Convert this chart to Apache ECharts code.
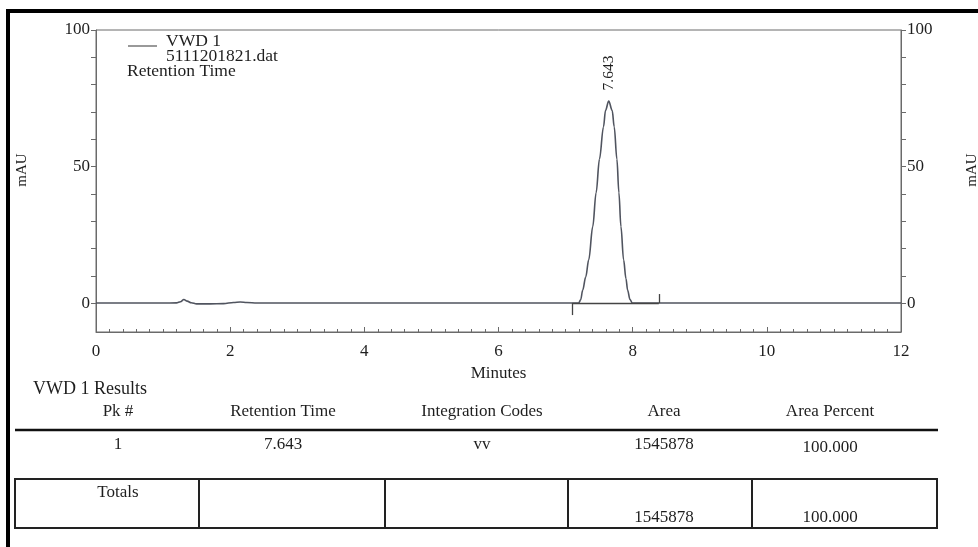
<!DOCTYPE html>
<html><head><meta charset="utf-8">
<script src="https://cdn.jsdelivr.net/npm/echarts@6/dist/echarts.min.js"></script>
<style>html,body{margin:0;padding:0;background:#fff}#c{width:978px;height:547px}</style>
</head><body><div id="c"></div>
<script>
// ---- data ----
const minutes = [0, 0.5, 1.0, 1.2, 1.26, 1.31, 1.36, 1.42, 1.5, 1.7, 1.9, 2.05, 2.15, 2.25, 2.4, 3, 4, 5, 6, 7, 7.195, 7.225, 7.255, 7.3, 7.345, 7.405, 7.455, 7.505, 7.565, 7.595, 7.643, 7.695, 7.725, 7.765, 7.795, 7.825, 7.865, 7.9, 7.925, 7.96, 7.995, 8.1, 8.5, 9, 10, 11, 12];
const mAU     = [0, 0,   0,   0.05, 0.5, 1.3, 0.7, 0.1, -0.3, -0.3, -0.2, 0.2, 0.4, 0.2, 0, 0, 0, 0, 0, 0, 0,    1.2,   4.7,  9.5, 15.8, 28,   40.4, 52.7, 64.5, 70.5, 74, 70.5, 64.5, 52.7, 40.4, 28,   15.8, 9,   4.7,  1.3,  0,    0,   0,   0, 0,  0,  0];
const peakTime = 7.643;
const markerTimes = [7.10, 8.39];
const markerValues = [-4.4, 3.3];
const xTickLabels = [0, 2, 4, 6, 8, 10, 12];
const yTickLabels = [0, 50, 100];
const yTicks = [0, 10, 20, 30, 40, 50, 60, 70, 80, 90, 100];
const yAxisTitle = 'mAU';
const xAxisTitle = 'Minutes';
const legendLines = ['VWD 1', '5111201821.dat', 'Retention Time'];
const tableTitle = 'VWD 1 Results';
const tableHeaders = ['Pk #', 'Retention Time', 'Integration Codes', 'Area', 'Area Percent'];
const tableRow = ['1', '7.643', 'vv', '1545878', '100.000'];
const totalsRow = ['Totals', '', '', '1545878', '100.000'];

const FONT = '"Liberation Serif", "Times New Roman", serif';
const TXT = '#1e1e1e';
const AX = '#6a6a6a';

const peakIdx = minutes.indexOf(peakTime);
const traceData = minutes.map((m, i) => [m, mAU[i]]);

const markerSegs = markerTimes.map((t, i) => [{ coord: [t, 0] }, { coord: [t, markerValues[i]] }]);
markerSegs.push([{ coord: [markerTimes[0], 0] }, { coord: [markerTimes[1], 0] }]);

// table layout
const colX = [118, 283, 482, 664, 830];
const g = [];
// frame
g.push({ type: 'line', shape: { x1: 8, y1: 9, x2: 8, y2: 547 }, style: { stroke: '#000', lineWidth: 4 } });
g.push({ type: 'line', shape: { x1: 6, y1: 11, x2: 978, y2: 11 }, style: { stroke: '#000', lineWidth: 4 } });
// axis titles
g.push({ type: 'text', x: 22, y: 170, rotation: Math.PI / 2, style: { text: yAxisTitle, font: '15px ' + FONT, fill: TXT, align: 'center', verticalAlign: 'middle' } });
g.push({ type: 'text', x: 972, y: 170, rotation: Math.PI / 2, style: { text: yAxisTitle, font: '15px ' + FONT, fill: TXT, align: 'center', verticalAlign: 'middle' } });
// legend
g.push({ type: 'line', shape: { x1: 128, y1: 46, x2: 157, y2: 46 }, style: { stroke: '#555', lineWidth: 1.2 } });
g.push({ type: 'text', left: 166, top: 32, style: { text: legendLines[0], font: '17.5px ' + FONT, fill: TXT } });
g.push({ type: 'text', left: 166, top: 47, style: { text: legendLines[1], font: '17.5px ' + FONT, fill: TXT } });
g.push({ type: 'text', left: 127, top: 62, style: { text: legendLines[2], font: '17.5px ' + FONT, fill: TXT } });
// table
g.push({ type: 'text', left: 33, top: 380, style: { text: tableTitle, font: '18px ' + FONT, fill: TXT } });
tableHeaders.forEach((h, i) => g.push({ type: 'text', x: colX[i], y: 412, style: { text: h, font: '17px ' + FONT, fill: TXT, align: 'center', verticalAlign: 'middle' } }));
g.push({ type: 'line', shape: { x1: 15, y1: 430, x2: 938, y2: 430 }, style: { stroke: '#111', lineWidth: 2.5 } });
tableRow.forEach((h, i) => g.push({ type: 'text', x: colX[i], y: 445 + (i === 4 ? 3 : 0), style: { text: h, font: '17px ' + FONT, fill: TXT, align: 'center', verticalAlign: 'middle' } }));
g.push({ type: 'rect', shape: { x: 15, y: 479, width: 922, height: 49 }, style: { fill: 'none', stroke: '#222', lineWidth: 2 } });
[199, 385, 568, 752].forEach(x => g.push({ type: 'line', shape: { x1: x, y1: 479, x2: x, y2: 528 }, style: { stroke: '#222', lineWidth: 2 } }));
totalsRow.forEach((h, i) => { if (h) g.push({ type: 'text', x: colX[i], y: i === 0 ? 493 : 518, style: { text: h, font: '17px ' + FONT, fill: TXT, align: 'center', verticalAlign: 'middle' } }); });

const yAxisBase = (pos) => ({
  type: 'value', position: pos, min: -10.6, max: 100,
  axisLine: { show: true, lineStyle: { color: AX, width: 1 } },
  axisTick: { show: true, customValues: yTicks, length: 5, lineStyle: { color: AX } },
  axisLabel: { show: true, customValues: yTickLabels, fontFamily: FONT, fontSize: 17, color: TXT, margin: 6 },
  splitLine: { show: false }
});

const chart = echarts.init(document.getElementById('c'), null, { renderer: 'canvas' });
chart.setOption({
  backgroundColor: '#fff',
  animation: false,
  grid: { left: 96, right: 77, top: 30, bottom: 215, show: true, borderColor: AX, borderWidth: 1, outerBoundsMode: 'none' },
  xAxis: {
    type: 'value', min: 0, max: 12, interval: 2,
    name: xAxisTitle, nameLocation: 'middle', nameGap: 29,
    nameTextStyle: { fontFamily: FONT, fontSize: 17, color: TXT },
    axisLine: { show: true, onZero: false, lineStyle: { color: AX } },
    axisTick: { show: true, inside: true, length: 5, lineStyle: { color: AX } },
    minorTick: { show: true, splitNumber: 10, length: 3, lineStyle: { color: AX } },
    axisLabel: { customValues: xTickLabels, fontFamily: FONT, fontSize: 17, color: TXT, margin: 11 },
    splitLine: { show: false }
  },
  yAxis: [yAxisBase('left'), yAxisBase('right')],
  graphic: g,
  series: [{
    type: 'line', data: traceData, showSymbol: false, symbol: 'none', smooth: 0.35, smoothMonotone: 'x',
    lineStyle: { color: '#50545f', width: 1.6 },
    markLine: { silent: true, symbol: 'none', label: { show: false }, lineStyle: { color: '#444', width: 1.3, type: 'solid' }, data: markerSegs },
    markPoint: {
      silent: true,
      data: [{ coord: [peakTime, mAU[peakIdx]], symbol: 'circle', symbolSize: 1, itemStyle: { color: 'rgba(0,0,0,0)' },
        label: { show: true, formatter: String(peakTime), position: 'top', distance: 10, rotate: 90, align: 'left', verticalAlign: 'middle', fontFamily: FONT, fontSize: 15.5, color: TXT } }]
    }
  }]
});
</script></body></html>
